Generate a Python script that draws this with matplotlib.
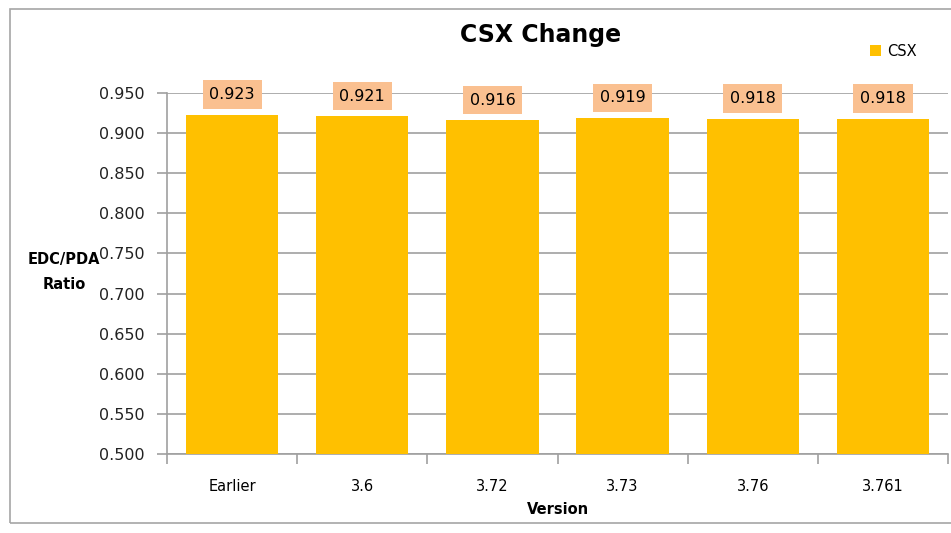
import numpy as np
import matplotlib.pyplot as plt
from matplotlib.patches import Rectangle
from matplotlib.ticker import FixedLocator, NullFormatter

versions = ["Earlier", "3.6", "3.72", "3.73", "3.76", "3.761"]
csx = [0.923, 0.921, 0.916, 0.919, 0.918, 0.918]
yticks = [0.500, 0.550, 0.600, 0.650, 0.700, 0.750, 0.800, 0.850, 0.900, 0.950]

plt.rcParams['font.family'] = ['DejaVu Sans']

fig = plt.figure(figsize=(9.51, 5.33), dpi=100)

# outer chart border
fig.patches.append(Rectangle((10/951, 10/533), 950/951, 514/533, transform=fig.transFigure,
                             fill=False, edgecolor='#a6a6a6', linewidth=1.2))

ax = fig.add_axes([167/951, (533-454)/533, 781/951, 361/533])
x = np.arange(len(versions))
bars = ax.bar(x, csx, width=0.71, color='#FFC000', zorder=3, label='CSX')

ax.set_xlim(-0.5, len(versions) - 0.5)
ax.set_ylim(0.5, 0.95)
ax.set_yticks(yticks)
ax.set_yticklabels([f"{v:.3f}" for v in yticks], fontsize=11.5, color='#222222')
ax.yaxis.grid(True, color='#a0a0a0', linewidth=1.2, zorder=0)

ax.set_xticks(x)
ax.set_xticklabels(versions, fontsize=10.5)
ax.tick_params(axis='x', which='major', length=0, pad=18)
ax.xaxis.set_minor_locator(FixedLocator(np.arange(-0.5, len(versions), 1)))
ax.xaxis.set_minor_formatter(NullFormatter())
ax.tick_params(axis='x', which='minor', length=7, color='#a0a0a0', width=1.2)
ax.tick_params(axis='y', length=7, color='#a0a0a0', width=1.2, pad=9)

for s in ['top', 'right']:
    ax.spines[s].set_visible(False)
for s in ['left', 'bottom']:
    ax.spines[s].set_color('#a0a0a0')
    ax.spines[s].set_linewidth(1.2)

for xi, v in zip(x, csx):
    ax.annotate(f"{v:.3f}", (xi, v), xytext=(0, 20), textcoords='offset pixels',
                ha='center', va='center', fontsize=11.5, zorder=5,
                bbox=dict(boxstyle='square,pad=0.42', facecolor='#FAC090', edgecolor='none'))

ax.set_xlabel("Version", fontsize=10.5, fontweight='bold', labelpad=5.5)
fig.text(64/951, 1 - 272/533, "EDC/PDA\nRatio", ha='center', va='center',
         fontsize=10.5, fontweight='bold', linespacing=1.9)
fig.text(541/951, 1 - 35/533, "CSX Change", ha='center', va='center',
         fontsize=17, fontweight='bold')

leg = fig.legend(handles=[bars], labels=['CSX'], loc='center left',
                 bbox_to_anchor=(857/951, 1 - 51/533), frameon=False,
                 fontsize=10.5, handlelength=0.75, handleheight=0.75, handletextpad=0.45)

fig.savefig("out.png", dpi=100)
